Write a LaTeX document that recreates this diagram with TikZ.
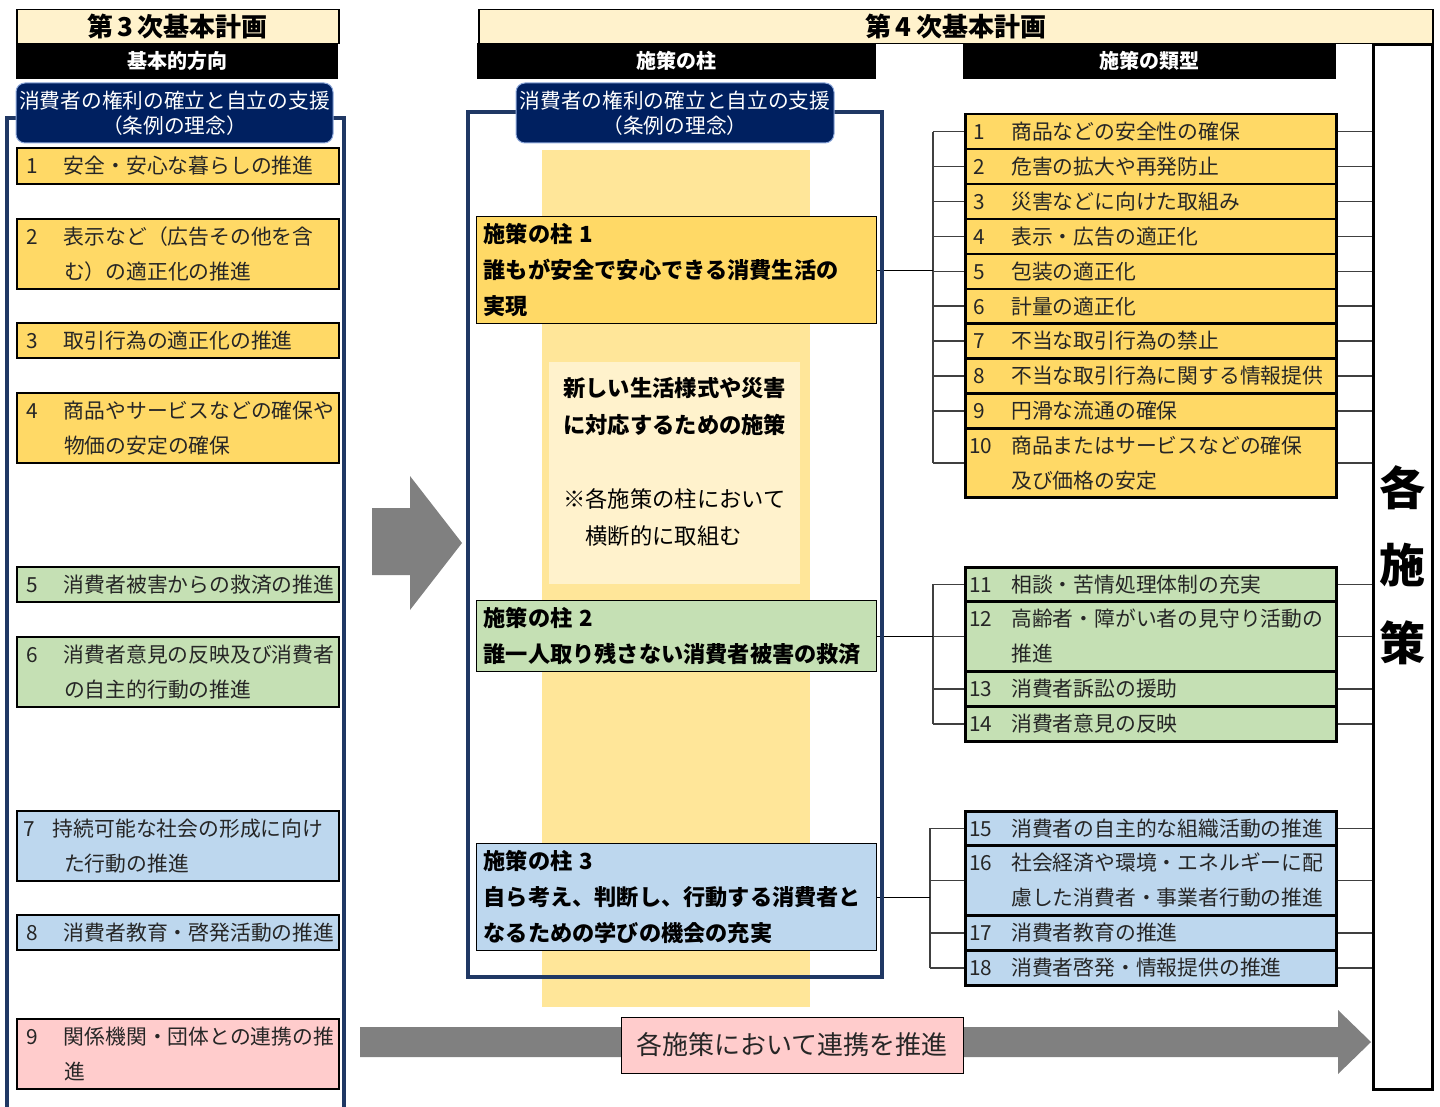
\documentclass[tikz,border=0pt]{standalone}
\usepackage{fontspec}
\setmainfont{Noto Sans CJK JP}
\definecolor{cream}{HTML}{FFF2CC}
\definecolor{yel}{HTML}{FFD966}
\definecolor{grn}{HTML}{C5E0B4}
\definecolor{blu}{HTML}{BDD7EE}
\definecolor{pnk}{HTML}{FFCCCC}
\definecolor{colyel}{HTML}{FFE699}
\definecolor{navyfr}{HTML}{203864}
\definecolor{navyfill}{HTML}{002060}
\definecolor{navyedge}{HTML}{8FAADC}
\definecolor{agray}{HTML}{808080}
\definecolor{txt}{HTML}{262626}
\definecolor{lgray}{HTML}{404040}
\newcommand\numL[1]{\hspace*{9pt}\makebox[38pt][l]{#1}}
\newcommand\numR[2][8pt]{\hspace*{#1}\makebox[\dimexpr46pt-#1\relax][l]{#2}}
\newcommand\twol[1]{\parbox[t]{300pt}{#1}}
\begin{document}
\begin{tikzpicture}[x=1pt,y=-1pt,
  box/.style={anchor=north west, inner sep=0pt, align=left, text=txt},
  litem/.style={box, draw=black, line width=2pt, text width=322pt, font=\fontsize{20.8}{35}\selectfont},
  ritem/.style={box, draw=black, line width=2.5pt, text width=371pt, font=\fontsize{20.8}{35}\selectfont},
  pillar/.style={box, draw=black, line width=1.3pt, text width=400pt, text=black, font=\bfseries\fontsize{22.2}{36}\selectfont},
  titlebox/.style={anchor=north west, inner sep=0pt, draw=black, line width=1.5pt, fill=cream, font=\bfseries\fontsize{26}{26}\selectfont},
  blackbar/.style={anchor=north west, inner sep=0pt, fill=black, text=white, font=\bfseries\fontsize{20}{20}\selectfont},
  navybox/.style={inner sep=0pt, rounded corners=9pt, fill=navyfill, draw=navyedge, line width=1pt, text=white, align=center, font=\fontsize{20.7}{25}\selectfont},
  navyframe/.style={draw=navyfr, line width=4.5pt},
  rconn/.style={draw=lgray, line width=1.5pt},
  bconn/.style={draw=lgray, line width=1.5pt},
  pconn/.style={draw=black, line width=1.2pt},
  arrowfill/.style={fill=agray}
]
\useasboundingbox (0,0) rectangle (1440,1107);

% ---------- column backgrounds ----------
\node[anchor=north west, inner sep=0pt, fill=colyel, minimum width=268pt, minimum height=857pt] (col) at (542,150) {};
\node[anchor=north west, inner sep=0pt, fill=cream, minimum width=251pt, minimum height=222pt] (newbox) at (549,362) {};
\node[anchor=base west, inner sep=0pt, text width=240pt, align=left, text=black, font=\fontsize{22.3}{37}\selectfont] (newtext) at (563,396.5)
  {{\bfseries 新しい生活様式や災害\\に対応するための施策}\\[37pt]※各施策の柱において\\　横断的に取組む};

% ---------- arrows ----------
\fill[arrowfill] (372,508) -- (410,508) -- (410,476) -- (462,543) -- (410,610) -- (410,575) -- (372,575) -- cycle;
\fill[arrowfill] (360,1027) -- (1338,1027) -- (1338,1010) -- (1371,1042) -- (1338,1074) -- (1338,1057) -- (360,1057) -- cycle;
\node[inner sep=0pt, draw=black, line width=1pt, fill=pnk, minimum width=342pt, minimum height=56pt, font=\fontsize{26}{26}\selectfont, text=txt] (renkei) at (792,1045) {各施策において連携を推進};

% ---------- titles ----------
\node[titlebox, minimum width=322pt, minimum height=34pt] (t3) at (16,9) {第\,3\,次基本計画};
\node[blackbar, minimum width=322pt, minimum height=36pt] (h3) at (16,43) {基本的方向};
\node[titlebox, minimum width=954pt, minimum height=34pt] (t4) at (478,9) {第\,4\,次基本計画};
\node[blackbar, minimum width=399pt, minimum height=36pt] (h4a) at (477,43) {施策の柱};
\node[blackbar, minimum width=373pt, minimum height=36pt] (h4b) at (963,43) {施策の類型};

% ---------- 各施策 box ----------
\node[anchor=north west, inner sep=0pt, draw=black, line width=2.5pt, fill=white, minimum width=59pt, minimum height=1044pt] (kaku) at (1372,44) {};
\node[anchor=center, inner sep=0pt, align=center, text=black, font=\bfseries\fontsize{46}{77.5}\selectfont] (kakut) at (1402,565) {各\\施\\策};

% ---------- right items ----------
\node[ritem, fill=yel, minimum height=35pt] (R1) at (964,113) {\numR{1}商品などの安全性の確保};
\node[ritem, fill=yel, minimum height=35pt] (R2) at (964,148) {\numR{2}危害の拡大や再発防止};
\node[ritem, fill=yel, minimum height=35pt] (R3) at (964,183) {\numR{3}災害などに向けた取組み};
\node[ritem, fill=yel, minimum height=35pt] (R4) at (964,218) {\numR{4}表示・広告の適正化};
\node[ritem, fill=yel, minimum height=35pt] (R5) at (964,253) {\numR{5}包装の適正化};
\node[ritem, fill=yel, minimum height=34pt] (R6) at (964,288) {\numR{6}計量の適正化};
\node[ritem, fill=yel, minimum height=35pt] (R7) at (964,322) {\numR{7}不当な取引行為の禁止};
\node[ritem, fill=yel, minimum height=35pt] (R8) at (964,357) {\numR{8}不当な取引行為に関する情報提供};
\node[ritem, fill=yel, minimum height=35pt] (R9) at (964,392) {\numR{9}円滑な流通の確保};
\node[ritem, fill=yel, minimum height=69pt] (R10) at (964,427) {\numR[4pt]{10}\twol{商品またはサービスなどの確保\\及び価格の安定}};
\node[ritem, fill=grn, minimum height=34pt] (R11) at (964,566) {\numR[4pt]{11}相談・苦情処理体制の充実};
\node[ritem, fill=grn, minimum height=70pt] (R12) at (964,600) {\numR[4pt]{12}\twol{高齢者・障がい者の見守り活動の\\推進}};
\node[ritem, fill=grn, minimum height=35pt] (R13) at (964,670) {\numR[4pt]{13}消費者訴訟の援助};
\node[ritem, fill=grn, minimum height=35pt] (R14) at (964,705) {\numR[4pt]{14}消費者意見の反映};
\node[ritem, fill=blu, minimum height=34pt] (R15) at (964,810) {\numR[4pt]{15}消費者の自主的な組織活動の推進};
\node[ritem, fill=blu, minimum height=70pt] (R16) at (964,844) {\numR[4pt]{16}\twol{社会経済や環境・エネルギーに配\\慮した消費者・事業者行動の推進}};
\node[ritem, fill=blu, minimum height=35pt] (R17) at (964,914) {\numR[4pt]{17}消費者教育の推進};
\node[ritem, fill=blu, minimum height=35pt] (R18) at (964,949) {\numR[4pt]{18}消費者啓発・情報提供の推進};

% ---------- pillars ----------
\node[pillar, fill=yel, minimum height=107pt] (P1) at (476,216) {\hspace*{7pt}\parbox[t]{390pt}{施策の柱 1\\誰もが安全で安心できる消費生活の\\実現}};
\node[pillar, fill=grn, minimum height=71pt] (P2) at (476,600) {\hspace*{7pt}\parbox[t]{390pt}{施策の柱 2\\誰一人取り残さない消費者被害の救済}};
\node[pillar, fill=blu, minimum height=107pt] (P3) at (476,843) {\hspace*{7pt}\parbox[t]{390pt}{施策の柱 3\\自ら考え、判断し、行動する消費者と\\なるための学びの機会の充実}};

% ---------- connectors ----------
\coordinate (b1) at (933,0);
\coordinate (b2) at (933,0);
\coordinate (b3) at (930,0);
\foreach \i in {1,...,10} {\draw[bconn] (R\i.west) -- (R\i.west -| b1);}
\draw[bconn] (R1.west -| b1) -- (R10.west -| b1);
\foreach \i in {11,...,14} {\draw[bconn] (R\i.west) -- (R\i.west -| b2);}
\draw[bconn] (R11.west -| b2) -- (R14.west -| b2);
\foreach \i in {15,...,18} {\draw[bconn] (R\i.west) -- (R\i.west -| b3);}
\draw[bconn] (R15.west -| b3) -- (R18.west -| b3);
\draw[pconn] (P1.east) -- (P1.east -| b1);
\draw[pconn] (P2.east) -- (P2.east -| b2);
\draw[pconn] (P3.east) -- (P3.east -| b3);
\foreach \i in {1,...,18} {\draw[rconn] (R\i.east) -- (R\i.east -| kaku.west);}

% ---------- frames ----------
\draw[navyframe] (7,1110) -- (7,118) -- (344,118) -- (344,1110);
\draw[navyframe] (468,112) rectangle (882,977);

% ---------- rounded boxes ----------
\node[navybox, minimum width=317pt, minimum height=60pt] (lrb) at (174.5,113) {消費者の権利の確立と自立の支援\\（条例の理念）};
\node[navybox, minimum width=318pt, minimum height=60pt] (mrb) at (675,113) {消費者の権利の確立と自立の支援\\（条例の理念）};

% ---------- left items ----------
\node[litem, fill=yel, minimum height=36pt] (L1) at (16,147) {\numL{1}安全・安心な暮らしの推進};
\node[litem, fill=yel, minimum height=70pt] (L2) at (16,218) {\numL{2}\twol{表示など（広告その他を含\\む）の適正化の推進}};
\node[litem, fill=yel, minimum height=35pt] (L3) at (16,322) {\numL{3}取引行為の適正化の推進};
\node[litem, fill=yel, minimum height=70pt] (L4) at (16,392) {\numL{4}\twol{商品やサービスなどの確保や\\物価の安定の確保}};
\node[litem, fill=grn, minimum height=35pt] (L5) at (16,566) {\numL{5}消費者被害からの救済の推進};
\node[litem, fill=grn, minimum height=70pt] (L6) at (16,636) {\numL{6}\twol{消費者意見の反映及び消費者\\の自主的行動の推進}};
\node[litem, fill=blu, minimum height=70pt] (L7) at (16,810) {\hspace*{6pt}\makebox[30pt][l]{7}\parbox[t]{290pt}{持続可能な社会の形成に向け\\\hspace*{11pt}た行動の推進}};
\node[litem, fill=blu, minimum height=35pt] (L8) at (16,914) {\numL{8}消費者教育・啓発活動の推進};
\node[litem, fill=pnk, minimum height=70pt] (L9) at (16,1018) {\numL{9}\twol{関係機関・団体との連携の推\\進}};
\end{tikzpicture}
\end{document}
